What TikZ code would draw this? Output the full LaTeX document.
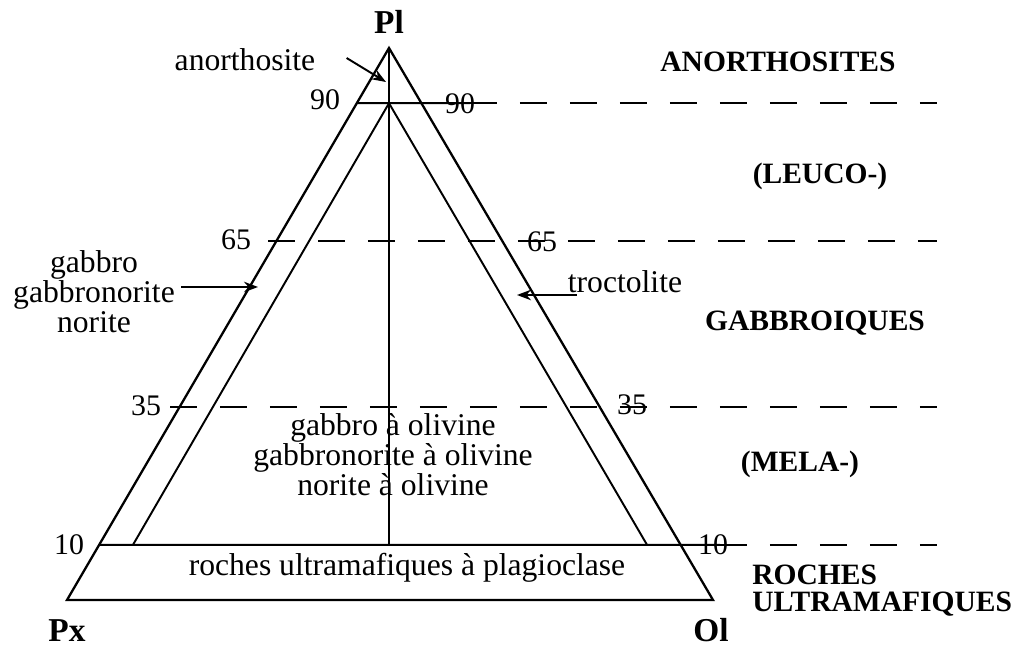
\documentclass[tikz,border=0pt]{standalone}
\usepackage{fontspec}
\setmainfont{Liberation Serif}
\usetikzlibrary{calc, arrows.meta}

\begin{document}
\begin{tikzpicture}[x=0.02cm, y=-0.02cm, >={Stealth[length=8pt, width=6pt]},
    edge/.style={line width=1.3pt},
    field/.style={line width=1.1pt},
    level/.style={line width=1.1pt, dash pattern=on 0.54cm off 0.46cm},
    pointer/.style={->, line width=1.1pt},
    rock/.style={font=\fontsize{18}{17}\selectfont, inner sep=0pt},
    group/.style={font=\fontsize{16.8}{15.5}\selectfont\bfseries, inner sep=0pt},
    tick/.style={font=\fontsize{17}{20}\selectfont, inner sep=0pt},
    apex/.style={font=\fontsize{19}{22}\selectfont\bfseries, inner sep=0pt}]
  \useasboundingbox (0,0) rectangle (1031,648);
  %--- Corners
  \coordinate (Pl) at (389,48);
  \coordinate (Px) at (67,600);
  \coordinate (Ol) at (713,600);
  %--- Plagioclase levels on the sides
  \coordinate (Px90) at ($(Px)!0.9!(Pl)$);
  \coordinate (Px10) at ($(Px)!0.1!(Pl)$);
  \coordinate (Ol10) at ($(Ol)!0.1!(Pl)$);
  \coordinate (C90)  at (389,103.2);   % inner apex
  \coordinate (C10)  at (389,544.8);
  \coordinate (I10l) at (133,544.8);
  \coordinate (I10r) at (647,544.8);
  %--- Ends of the level lines
  \coordinate (E90) at (470,103.2);
  \coordinate (F90) at (937,103.2);
  \coordinate (S65) at (268,241.2);
  \coordinate (F65) at (937,241.2);
  \coordinate (S35) at (170,406.8);
  \coordinate (F35) at (937,406.8);
  \coordinate (E10) at (720,544.8);
  \coordinate (F10) at (937,544.8);
  %--- Triangle
  \draw[edge] (Px) -- (Ol) -- (Pl) -- cycle;
  \draw[line width=0.9pt] (Pl) -- (C10);
  \draw[field] (I10l) -- (C90) -- (I10r);
  %--- Levels
  \draw[field] (Px90) -- (E90);
  \draw[level] (E90) -- (F90);
  \draw[level] (S65) -- (F65);
  \draw[level] (S35) -- (F35);
  \draw[field] (Px10) -- (E10);
  \draw[level] (E10) -- (F10);
  %--- Apices
  \node[apex] (pl) at (389,22) {Pl};
  \node[apex] (px) at (67,631) {Px};
  \node[apex] (ol) at (711,630) {Ol};
  %--- Percentages
  \node[tick] (n90l) at (325,100) {90};
  \node[tick] (n90r) at (460,104) {90};
  \node[tick] (n65l) at (236,240) {65};
  \node[tick] (n65r) at (542,242) {65};
  \node[tick] (n35l) at (146,406) {35};
  \node[tick] (n35r) at (632,405) {35};
  \node[tick] (n10l) at (69,545) {10};
  \node[tick] (n10r) at (713,545) {10};
  %--- Rock names
  \node[rock] (anor) at (245,60) {anorthosite};
  \node[rock, align=center] (gab) at (94,292) {gabbro\\gabbronorite\\norite};
  \node[rock] (troc) at (625,282) {troctolite};
  \node[rock, align=center] (olgab) at (393,455)
    {gabbro à olivine\\gabbronorite à olivine\\norite à olivine};
  \node[rock] (ultraplag) at (407,568) {roches ultramafiques à plagioclase};
  %--- Pointers
  \coordinate (anortip) at (386,82);
  \coordinate (gabtip)  at (258,287);
  \coordinate (troctip) at (517,295);
  \draw[pointer] ($(anor.east)+(31,-2)$) -- (anortip);
  \draw[pointer] ($(gab.east |- gabtip)+(6,0)$) -- (gabtip);
  \draw[pointer] ($(troc.west |- troctip)+(9,0)$) -- (troctip);
  %--- Groups
  \node[group] (anorths) at (778,62) {ANORTHOSITES};
  \node[group] (leuco) at (820,176) {(LEUCO-)};
  \node[group] (gabbroiq) at (815,323) {GABBROIQUES};
  \node[group] (mela) at (800,464) {(MELA-)};
  \node[group, align=left, anchor=west] (ultra) at (752,591) {ROCHES\\ULTRAMAFIQUES};
\end{tikzpicture}
\end{document}
